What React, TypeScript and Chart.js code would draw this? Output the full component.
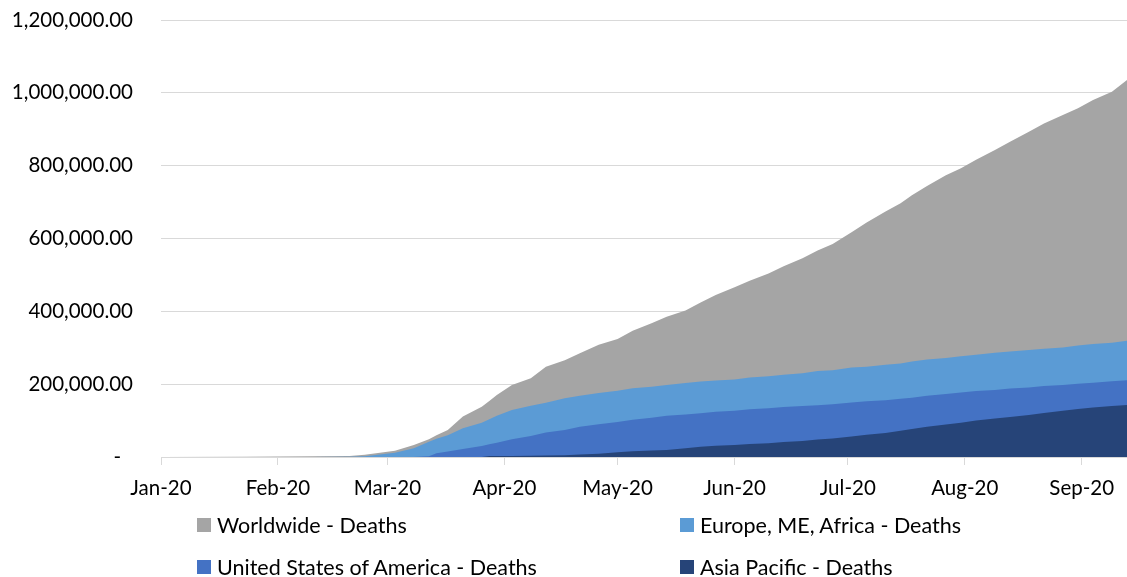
import React, { useEffect, useRef } from "react";
import { Chart, registerables } from "chart.js";

Chart.register(...registerables);

// Day index counted from 1 Jan 2020
const days = [0, 22, 40, 50, 54, 58, 62, 67, 71, 73, 76, 80, 85, 87, 89, 93, 98, 102, 107, 111, 116, 121, 125, 130, 134, 139, 143, 147, 152, 156, 161, 165, 170, 174, 178, 183, 187, 192, 196, 199, 203, 208, 212, 216, 221, 225, 230, 234, 239, 243, 247, 252, 256];

const worldwide = [0, 500, 2000, 3000, 6000, 12000, 17000, 33000, 49000, 60000, 74000, 111000, 138000, 154000, 170000, 198000, 216000, 248000, 266000, 285000, 308000, 324000, 347000, 367000, 385000, 402000, 424000, 445000, 466000, 484000, 504000, 524000, 546000, 567000, 585000, 617000, 644000, 674000, 697000, 719000, 744000, 774000, 793000, 816000, 843000, 866000, 893000, 916000, 939000, 958000, 980000, 1003000, 1035000];

const europe = [0, 0, 0, 500, 2000, 7000, 12000, 24000, 42000, 50000, 60000, 79000, 94000, 104000, 113000, 129000, 141000, 149000, 161000, 168000, 176000, 182000, 189000, 193000, 198000, 203000, 207000, 210000, 213000, 218000, 222000, 226000, 230000, 236000, 238000, 246000, 248000, 253000, 257000, 262000, 268000, 272000, 277000, 281000, 286000, 290000, 294000, 297000, 301000, 306000, 310000, 314000, 319000];

const usa = [0, 0, 0, 0, 0, 0, 0, 0, 2000, 10000, 15000, 22000, 30000, 35000, 39000, 49000, 58000, 67000, 74000, 83000, 90000, 96000, 102000, 108000, 113000, 117000, 120000, 124000, 127000, 131000, 134000, 137000, 140000, 142000, 145000, 150000, 153000, 156000, 160000, 163000, 168000, 173000, 177000, 181000, 184000, 188000, 191000, 195000, 198000, 201000, 204000, 208000, 211000];

const asia = [0, 0, 0, 0, 0, 0, 0, 0, 0, 0, 0, 0, 0, 2500, 2800, 3000, 3500, 4000, 5000, 7000, 9000, 13000, 16000, 18000, 19000, 24000, 28000, 31000, 33000, 36000, 38000, 41000, 44000, 48000, 51000, 56000, 61000, 66000, 72000, 77000, 83000, 89000, 94000, 100000, 106000, 110000, 115000, 121000, 127000, 132000, 136000, 140000, 143000];

const monthStarts = [0, 31, 60, 91, 121, 152, 182, 213, 244];
const monthLabels = ["Jan-20", "Feb-20", "Mar-20", "Apr-20", "May-20", "Jun-20", "Jul-20", "Aug-20", "Sep-20"];

const seriesNames = ["Worldwide - Deaths", "Europe, ME, Africa - Deaths", "United States of America - Deaths", "Asia Pacific - Deaths"];
const seriesData = [worldwide, europe, usa, asia];
const seriesColors = ["#A5A5A5", "#5B9BD5", "#4472C4", "#264478"];

const legendPos = [
  { left: 197, top: 525 },
  { left: 680, top: 525 },
  { left: 197, top: 567 },
  { left: 680, top: 567 },
];

const FONT = "Lato, 'Open Sans', sans-serif";
const AXIS_SIZE = 20.5;
const LEGEND_SIZE = 21.5;

export default function App() {
  const ref = useRef<HTMLCanvasElement | null>(null);

  useEffect(() => {
    if (!ref.current) return;
    const chart = new Chart(ref.current, {
      type: "line",
      data: {
        datasets: seriesNames.map((name, i) => ({
          label: name,
          data: days.map((d, j) => ({ x: d, y: seriesData[i][j] })),
          backgroundColor: seriesColors[i],
          borderColor: seriesColors[i],
          borderWidth: 0,
          pointRadius: 0,
          fill: "origin",
          tension: 0,
          order: seriesNames.length - i,
        })),
      },
      options: {
        animation: false,
        responsive: false,
        events: [],
        layout: { padding: { top: 20, right: 0, bottom: 0, left: 0 } },
        plugins: { legend: { display: false }, tooltip: { enabled: false } },
        scales: {
          x: {
            type: "linear",
            min: 0,
            max: 256,
            afterBuildTicks: (s: any) => {
              s.ticks = monthStarts.map((v) => ({ value: v }));
            },
            afterFit: (s: any) => {
              s.height = 120;
            },
            ticks: {
              autoSkip: false,
              maxRotation: 0,
              padding: 11,
              color: "#000",
              font: { family: FONT, size: AXIS_SIZE },
              callback: (v: any) => {
                const k = monthStarts.indexOf(Number(v));
                return k >= 0 ? monthLabels[k] : "";
              },
            },
            grid: { drawOnChartArea: false, drawTicks: true, tickLength: 8, color: "#d9d9d9" },
            border: { color: "#d9d9d9" },
          },
          y: {
            min: 0,
            max: 1200000,
            afterFit: (s: any) => {
              s.width = 161;
              s.paddingTop = 0;
              s.paddingBottom = 0;
            },
            ticks: {
              stepSize: 200000,
              padding: 28,
              color: "#000",
              font: { family: FONT, size: AXIS_SIZE },
              callback: (v: any) =>
                Number(v) === 0
                  ? "-\u2007"
                  : Number(v).toLocaleString("en-US", { minimumFractionDigits: 2, maximumFractionDigits: 2 }),
            },
            grid: { color: "#d9d9d9", drawTicks: false },
            border: { display: false },
          },
        },
      },
    });
    return () => chart.destroy();
  }, []);

  return (
    <div style={{ position: "absolute", left: 0, top: 0, width: 1127, height: 577, background: "#fff", overflow: "hidden" }}>
      <canvas ref={ref} width={1127} height={577} style={{ position: "absolute", left: 0, top: 0, width: 1127, height: 577 }} />
      {seriesNames.map((name, i) => (
        <div
          key={name}
          style={{
            position: "absolute",
            left: legendPos[i].left,
            top: legendPos[i].top - 13,
            height: 26,
            display: "flex",
            alignItems: "center",
            whiteSpace: "nowrap",
            fontFamily: FONT,
            fontSize: LEGEND_SIZE,
            color: "#000",
          }}
        >
          <span style={{ display: "inline-block", width: 14, height: 14, background: seriesColors[i], marginRight: 6, flex: "none" }} />
          <span>{name}</span>
        </div>
      ))}
    </div>
  );
}
